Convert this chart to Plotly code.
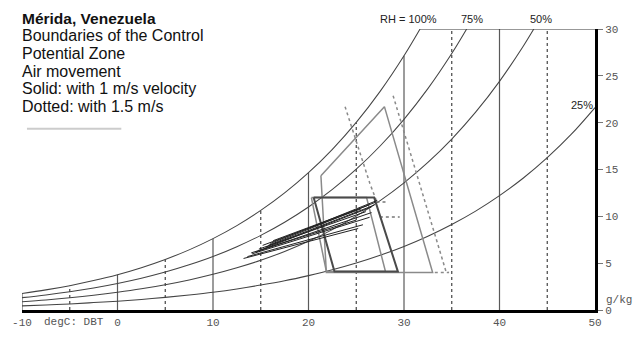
import plotly.graph_objects as go

# ---------------- data ----------------
# Percentage-saturation curves: dry bulb temperature (degC) -> moisture content (g/kg)
rh100_T = [-10, -7.5, -5, -2.5, 0, 2.5, 5, 7.5, 10, 12.5, 15, 17.5, 20, 22.5, 25, 27.5, 30, 31.68]
rh100_W = [1.77, 2.15, 2.60, 3.14, 3.77, 4.52, 5.40, 6.42, 7.62, 9.01, 10.63, 12.50, 14.66, 17.16, 20.03, 23.34, 27.14, 30.0]
rh75_T = [-10, -7.5, -5, -2.5, 0, 2.5, 5, 7.5, 10, 12.5, 15, 17.5, 20, 22.5, 25, 27.5, 30, 32.5, 35, 36.56]
rh75_W = [1.32, 1.61, 1.95, 2.35, 2.83, 3.39, 4.05, 4.82, 5.71, 6.76, 7.97, 9.37, 11.00, 12.87, 15.03, 17.51, 20.36, 23.63, 27.38, 30.0]
rh50_T = [-10, -7.5, -5, -2.5, 0, 2.5, 5, 7.5, 10, 12.5, 15, 17.5, 20, 22.5, 25, 27.5, 30, 32.5, 35, 37.5, 40, 42.5, 43.59]
rh50_W = [0.88, 1.07, 1.30, 1.57, 1.89, 2.26, 2.70, 3.21, 3.81, 4.51, 5.31, 6.25, 7.33, 8.58, 10.02, 11.67, 13.57, 15.75, 18.25, 21.12, 24.41, 28.19, 30.0]
rh25_T = [-10, -7.5, -5, -2.5, 0, 2.5, 5, 7.5, 10, 12.5, 15, 17.5, 20, 22.5, 25, 27.5, 30, 32.5, 35, 37.5, 40, 42.5, 45, 47.5, 50]
rh25_W = [0.44, 0.54, 0.65, 0.79, 0.94, 1.13, 1.35, 1.61, 1.90, 2.25, 2.66, 3.12, 3.67, 4.29, 5.01, 5.84, 6.79, 7.88, 9.13, 10.56, 12.21, 14.09, 16.26, 18.74, 21.61]

# dry bulb grid lines and the height where each one meets the saturation curve / top edge
grid_solid_T = [-10, 0, 10, 20, 30, 40]
grid_solid_top = [1.77, 3.77, 7.62, 14.66, 27.14, 30.0]
grid_dot_T = [-5, 5, 15, 25, 35, 45]
grid_dot_top = [2.60, 5.40, 10.63, 20.03, 30.0, 30.0]
top_edge_T = [31.68, 50]
top_edge_W = [30.0, 30.0]

# Comfort zone (dark) and a second, lighter comfort box
comfort_T = [20.54, 26.88, 29.36, 22.72, 20.54]
comfort_W = [12.0, 12.0, 4.1, 4.1, 12.0]
comfort2_T = [20.30, 26.08, 28.06, 21.87, 20.30]
comfort2_W = [12.0, 12.0, 4.1, 4.1, 12.0]
# Control potential zone, air movement 1 m/s (solid)
air1_T = [21.30, 27.95, 33.0, 21.87, 21.30]
air1_W = [14.33, 21.71, 4.0, 4.0, 14.33]
# Control potential zone, air movement 1.5 m/s (dotted)
air15_T = [28.86, 34.40, 34.71, 33.0]
air15_W = [22.88, 4.1, 4.0, 4.0]
air15b_T = [23.83, 26.43, 27.12]
air15b_W = [21.7, 13.5, 11.64]
air15c_T = [[27.12, 28.34], [27.47, 29.55]]
air15c_W = [[11.54, 11.54], [9.93, 9.93]]

# Monthly lines (min temp / max humidity -> max temp / min humidity)
month_T0 = [13.2, 13.6, 14.1, 14.5, 15.0, 15.5, 15.8, 16.0, 16.3, 15.2, 14.8, 14.0]
month_W0 = [5.5, 5.7, 6.0, 6.2, 6.4, 6.7, 6.9, 7.1, 7.4, 6.9, 6.5, 6.1]
month_T1 = [25.2, 25.7, 26.4, 26.6, 26.6, 26.9, 27.0, 27.2, 26.3, 25.5, 26.0, 25.0]
month_W1 = [8.7, 9.1, 9.9, 10.4, 11.0, 11.2, 11.5, 11.7, 11.2, 10.8, 10.5, 9.6]

x_tick_vals = [-10, 0, 10, 20, 30, 40, 50]
x_tick_text = ["-10", "0", "10", "20", "30", "40", "50"]
y_tick_vals = [0, 5, 10, 15, 20, 25, 30]
y_tick_text = ["0", "5", "10", "15", "20", "25", "30"]

title_lines = ["<b>Mérida, Venezuela</b>", "Boundaries of the Control", "Potential Zone",
               "Air movement", "Solid: with 1 m/s velocity", "Dotted: with 1.5 m/s"]
rh_labels = ["RH = 100%", "75%", "50%", "25%"]

# ---------------- figure ----------------
fig = go.Figure()


def add_line(x, y, color, width, dash="solid", shape="linear"):
    fig.add_trace(go.Scatter(x=x, y=y, mode="lines", hoverinfo="skip", showlegend=False,
                             line=dict(color=color, width=width, dash=dash, shape=shape)))


def segments(xs, tops):
    X, Y = [], []
    for x, t in zip(xs, tops):
        X += [x, x, None]
        Y += [0, t, None]
    return X, Y


gx, gy = segments(grid_solid_T, grid_solid_top)
add_line(gx, gy, "#5a5a5a", 1.2)
gx, gy = segments(grid_dot_T, grid_dot_top)
add_line(gx, gy, "#444444", 1.2, dash="dot")
add_line(top_edge_T, top_edge_W, "#333333", 1.1)

for T, W in [(rh100_T, rh100_W), (rh75_T, rh75_W), (rh50_T, rh50_W), (rh25_T, rh25_W)]:
    add_line(T, W, "#444444", 1.05, shape="spline")

add_line(air1_T, air1_W, "#8a8a8a", 1.5)
add_line(air15_T, air15_W, "#8a8a8a", 1.5, dash="dot")
add_line(air15b_T, air15b_W, "#8a8a8a", 1.5, dash="dot")
for T, W in zip(air15c_T, air15c_W):
    add_line(T, W, "#777777", 1.5, dash="dot")
add_line(comfort2_T, comfort2_W, "#8a8a8a", 1.5)
add_line(comfort_T, comfort_W, "#4a4a4a", 2)

mx, my = [], []
for a, b, c, d in zip(month_T0, month_W0, month_T1, month_W1):
    mx += [a, c, None]
    my += [b, d, None]
add_line(mx, my, "#222222", 1.0)

# pixel helpers for annotations (plot area: x 18..595, y 29..322)
def ppx(p):
    return (p - 18) / 577.0


def ppy(p):
    return (322 - p) / 293.0


anns = []
centers = [17.8, 36.2, 54.5, 72.8, 91.2, 109.5]
for i, (txt, c) in enumerate(zip(title_lines, centers)):
    anns.append(dict(x=ppx(16), y=ppy(c), xref="paper", yref="paper", xanchor="left", yanchor="middle",
                     text=txt, showarrow=False,
                     font=dict(family="Liberation Sans, Arial", size=15.5 if i == 0 else 16, color="#111111")))
rh_pos = [(407, 19), (471.5, 19), (541, 19), (581.5, 108)]
for txt, (x, y) in zip(rh_labels, rh_pos):
    anns.append(dict(x=ppx(x), y=ppy(y), xref="paper", yref="paper", xanchor="center", yanchor="middle",
                     text=txt, showarrow=False,
                     font=dict(family="Liberation Sans, Arial", size=11, color="#222222")))
anns.append(dict(x=ppx(70), y=ppy(335), xref="paper", yref="paper", xanchor="center", yanchor="middle",
                 text="degC: DBT", showarrow=False,
                 font=dict(family="Liberation Mono, Courier New", size=11, color="#555555")))
anns.append(dict(x=ppx(604), y=ppy(312), xref="paper", yref="paper", xanchor="left", yanchor="middle",
                 text="g/kg", showarrow=False,
                 font=dict(family="Liberation Mono, Courier New", size=11, color="#555555")))

fig.update_layout(
    width=642, height=341,
    margin=dict(l=18, r=47, t=29, b=19, pad=0),
    paper_bgcolor="white", plot_bgcolor="white",
    annotations=anns,
    shapes=[dict(type="line", xref="paper", yref="paper", x0=ppx(23), x1=ppx(118), y0=ppy(133), y1=ppy(133),
                 line=dict(color="#cccccc", width=2))],
    xaxis=dict(range=[-10, 50], showgrid=False, zeroline=False, showline=True, linewidth=3,
               linecolor="black", ticks="", tickvals=x_tick_vals, ticktext=x_tick_text,
               tickfont=dict(family="Liberation Mono, Courier New", size=11, color="#555555"),
               fixedrange=True),
    yaxis=dict(range=[0, 30], side="right", showgrid=False, zeroline=False, showline=True, linewidth=3,
               linecolor="black", ticks="outside", ticklen=5, tickcolor="#777777", tickwidth=1,
               tickvals=y_tick_vals, ticktext=y_tick_text,
               tickfont=dict(family="Liberation Mono, Courier New", size=11, color="#555555"),
               fixedrange=True),
)

fig.write_html("out.html")
